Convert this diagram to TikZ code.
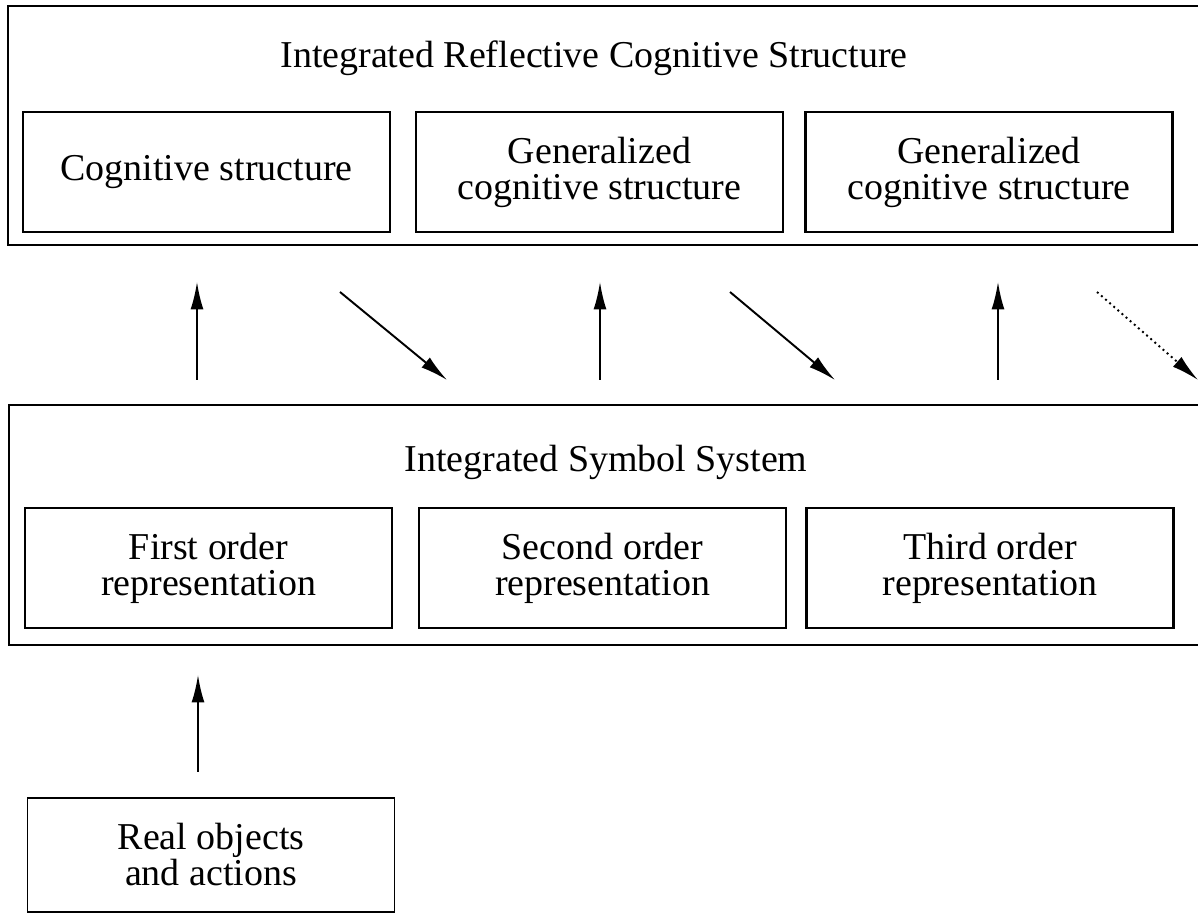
\documentclass[tikz,border=0pt]{standalone}
\usepackage{fontspec}
\setmainfont{Liberation Serif}
\usetikzlibrary{arrows.meta}

\begin{document}
\begin{tikzpicture}[
        box/.style={draw, line width=1.2pt, minimum width=7.34cm, minimum height=2.4cm, align=center, inner sep=2pt},
        uparrow/.style={line width=1.1pt, -{Latex[length=5.5mm,width=2.6mm]}},
        font=\fontsize{21.6}{20.5}\selectfont]
        \useasboundingbox (0,0) rectangle (23.96,18.3);

        % upper level
        \draw[line width=1.2pt] (23.96,18.18) -| (0.16,13.4) -- (23.96,13.4);
        \node (reflective) at (11.88,17.14) {Integrated Reflective Cognitive Structure};
        \node[box] (cog1) at (4.13,14.86) {Cognitive structure};
        \node[box] (cog2) at (11.99,14.86) {Generalized\\cognitive structure};
        \node[box] (cog3) at (19.78,14.86) {Generalized\\cognitive structure};

        % lower level
        \draw[line width=1.2pt] (23.96,10.2) -| (0.18,5.4) -- (23.96,5.4);
        \node (symbol) at (12.12,9.06) {Integrated Symbol System};
        \node[box] (rep1) at (4.17,6.94) {First order\\representation};
        \node[box] (rep2) at (12.05,6.94) {Second order\\representation};
        \node[box] (rep3) at (19.8,6.94) {Third order\\representation};

        \node[box, line width=1pt, minimum height=2.28cm] (real) at (4.22,1.2) {Real objects\\and actions};

        % arrows between the levels
        \coordinate (up1s) at (3.94,10.7);  \coordinate (up1e) at (3.94,12.66);
        \coordinate (dn1s) at (6.8,12.46);  \coordinate (dn1e) at (8.94,10.7);
        \coordinate (up2s) at (12.0,10.7);  \coordinate (up2e) at (12.0,12.66);
        \coordinate (dn2s) at (14.6,12.46); \coordinate (dn2e) at (16.7,10.7);
        \coordinate (up3s) at (19.96,10.7); \coordinate (up3e) at (19.96,12.66);
        \coordinate (dn3s) at (21.94,12.46); \coordinate (dn3e) at (23.96,10.7);
        \coordinate (up0s) at (3.96,2.86);  \coordinate (up0e) at (3.96,4.8);

        \draw[uparrow] (up1s) -- (up1e);
        \draw[uparrow] (dn1s) -- (dn1e);
        \draw[uparrow] (up2s) -- (up2e);
        \draw[uparrow] (dn2s) -- (dn2e);
        \draw[uparrow] (up3s) -- (up3e);
        \draw[uparrow, dotted] (dn3s) -- (dn3e);
        \draw[uparrow] (up0s) -- (up0e);
    \end{tikzpicture}
\end{document}
